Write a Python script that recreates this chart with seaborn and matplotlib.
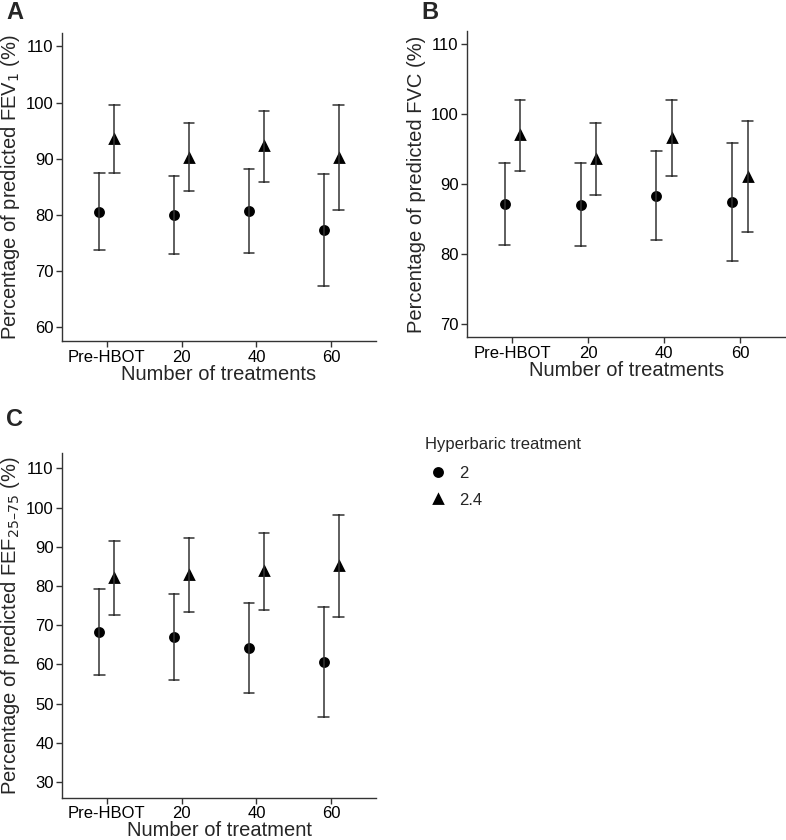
import numpy as np
import pandas as pd
import matplotlib.pyplot as plt
import seaborn as sns

#-------Data (mean, lower and upper CI)

treatments = ['Pre-HBOT', '20', '40', '60']
groups = ['2', '2.4']

fev1_mean_2 = [80.5, 80.0, 80.7, 77.3]
fev1_lo_2 = [73.7, 73.0, 73.2, 67.3]
fev1_hi_2 = [87.4, 87.0, 88.2, 87.3]
fev1_mean_24 = [93.5, 90.2, 92.2, 90.2]
fev1_lo_24 = [87.4, 84.2, 85.8, 80.8]
fev1_hi_24 = [99.5, 96.3, 98.5, 99.5]

fvc_mean_2 = [87.1, 87.0, 88.3, 87.4]
fvc_lo_2 = [81.3, 81.1, 82.0, 79.0]
fvc_hi_2 = [93.0, 93.0, 94.7, 95.9]
fvc_mean_24 = [97.0, 93.5, 96.5, 91.0]
fvc_lo_24 = [91.8, 88.4, 91.1, 83.1]
fvc_hi_24 = [102.0, 98.7, 102.0, 99.0]

fef_mean_2 = [68.2, 66.9, 64.1, 60.5]
fef_lo_2 = [57.3, 56.0, 52.7, 46.5]
fef_hi_2 = [79.2, 77.9, 75.7, 74.5]
fef_mean_24 = [82.1, 82.9, 83.8, 85.2]
fef_lo_24 = [72.6, 73.3, 73.8, 72.2]
fef_hi_24 = [91.4, 92.3, 93.4, 98.2]


def long_table(m2, lo2, hi2, m24, lo24, hi24):
    # three rows per point: lower, mean, upper -> median = mean, range = CI
    rows = []
    for g, m, lo, hi in [('2', m2, lo2, hi2), ('2.4', m24, lo24, hi24)]:
        for t, a, b, c in zip(treatments, lo, m, hi):
            for v in (a, b, c):
                rows.append({'treatment': t, 'group': g, 'value': v})
    return pd.DataFrame(rows)


df_fev1 = long_table(fev1_mean_2, fev1_lo_2, fev1_hi_2, fev1_mean_24, fev1_lo_24, fev1_hi_24)
df_fvc = long_table(fvc_mean_2, fvc_lo_2, fvc_hi_2, fvc_mean_24, fvc_lo_24, fvc_hi_24)
df_fef = long_table(fef_mean_2, fef_lo_2, fef_hi_2, fef_mean_24, fef_lo_24, fef_hi_24)

#-------Settings

sns.set_theme(style="ticks")
plt.rcParams['font.family'] = ['Liberation Sans', 'DejaVu Sans']
plt.rcParams['axes.edgecolor'] = '#333333'
plt.rcParams['xtick.color'] = '#333333'
plt.rcParams['ytick.color'] = '#333333'
plt.rcParams['xtick.labelcolor'] = 'black'
plt.rcParams['ytick.labelcolor'] = 'black'

fig = plt.figure(figsize=(7.86, 8.4), dpi=100)
axA = fig.add_axes([0.0789, 0.5937, 0.3995, 0.367])
axB = fig.add_axes([0.5938, 0.5985, 0.4055, 0.365])
axC = fig.add_axes([0.0789, 0.0504, 0.3995, 0.4103])

panels = [
    (axA, df_fev1, 'Percentage of predicted FEV$_1$ (%)', 'Number of treatments', (57.5, 112.4), range(60, 111, 10)),
    (axB, df_fvc, 'Percentage of predicted FVC (%)', 'Number of treatments', (68.1, 111.9), range(70, 111, 10)),
    (axC, df_fef, 'Percentage of predicted FEF$_{25\u201375}$ (%)', 'Number of treatment', (26.0, 113.9), range(30, 111, 10)),
]

for ax, d, ylab, xlab, ylim, yticks in panels:
    sns.pointplot(data=d, x='treatment', y='value', hue='group', order=treatments,
                  hue_order=groups, estimator='median',
                  errorbar=lambda x: (x.min(), x.max()),
                  palette=['black', 'black'], markers=['o', '^'], linestyle='none',
                  dodge=0.2, capsize=0.14, markersize=5.8,
                  err_kws={'color': '#333333', 'linewidth': 1.1},
                  legend=(ax is axC), ax=ax)
    ax.set_xlim(-0.6, 3.6)
    ax.set_ylim(*ylim)
    ax.set_yticks(list(yticks))
    ax.set_ylabel(ylab, fontsize=14.5, labelpad=3)
    ax.set_xlabel(xlab, fontsize=14.5, labelpad=0)
    ax.tick_params(labelsize=12, length=4, width=1, pad=2)
    sns.despine(ax=ax)
    for s in ['left', 'bottom']:
        ax.spines[s].set_linewidth(1.0)

# shared legend
handles, labels = axC.get_legend_handles_labels()
axC.get_legend().remove()
fig.legend(handles, labels, title='Hyperbaric treatment', loc='upper left',
           bbox_to_anchor=(0.5365, 0.484), frameon=False, fontsize=12,
           title_fontsize=12, alignment='left', handletextpad=0.45,
           handlelength=1.6, labelspacing=0.75, borderpad=0.2,
           borderaxespad=0)
leg = fig.legends[0]
leg._legend_box.sep = 10

fig.text(0.008, 0.999, 'A', fontsize=17, fontweight='bold', va='top')
fig.text(0.536, 0.999, 'B', fontsize=17, fontweight='bold', va='top')
fig.text(0.008, 0.514, 'C', fontsize=17, fontweight='bold', va='top')

plt.savefig('out.png', dpi=100)
plt.close()
